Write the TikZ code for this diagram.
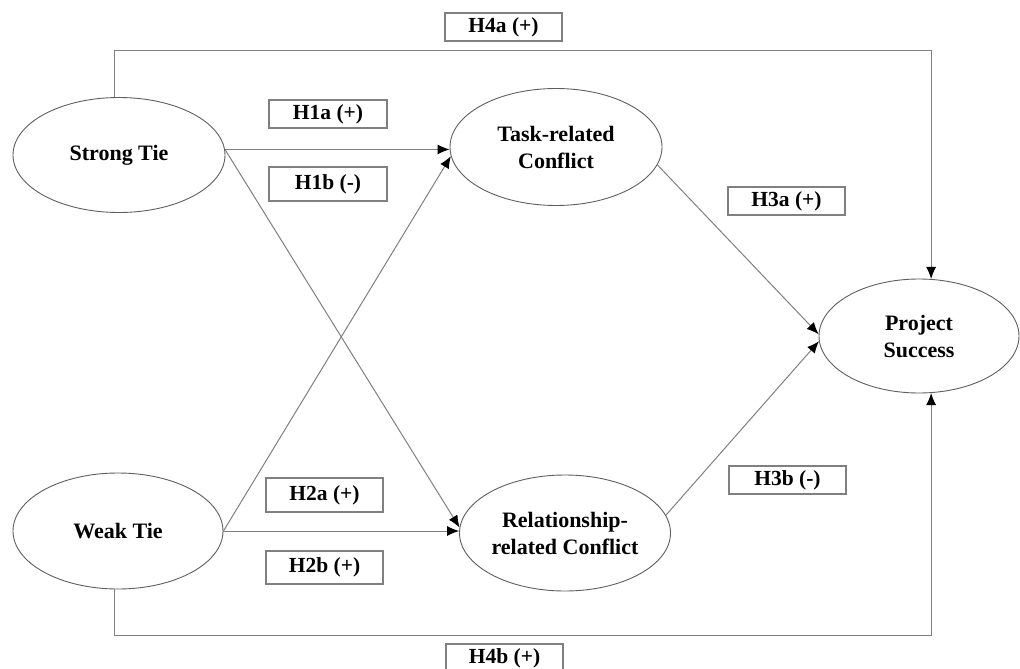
\documentclass[tikz,border=0pt]{standalone}
\usepackage{fontspec}
\setmainfont{Liberation Serif}
\usetikzlibrary{arrows.meta,shapes.geometric}
\definecolor{linegray}{RGB}{128,128,128}
\definecolor{edgegray}{RGB}{95,95,95}
\begin{document}
\begin{tikzpicture}[x=1pt,y=-1pt,
  var/.style={ellipse,draw=edgegray,line width=0.9pt,inner sep=0pt,align=center,
    font=\bfseries\fontsize{22}{27}\selectfont},
  hyp/.style={rectangle,draw=linegray,line width=1.1pt,inner sep=0pt,
    font=\bfseries\fontsize{21.5}{26}\selectfont},
  conn/.style={draw=linegray,line width=1pt,-{Latex[length=12pt,width=10pt,color=black]}}]
\useasboundingbox (0,0) rectangle (1020,669);
\fill[white] (0,0) rectangle (1020,669);
% variables
\node[var,minimum width=212pt,minimum height=115pt] (st) at (119,155) {Strong Tie};
\node[var,minimum width=210pt,minimum height=116pt] (wt) at (118,531) {Weak Tie};
\node[var,minimum width=212pt,minimum height=117pt] (tc) at (556,147) {Task-related\\Conflict};
\node[var,minimum width=211pt,minimum height=116pt] (rc) at (565,533) {Relationship-\\related Conflict};
\node[var,minimum width=200pt,minimum height=114pt] (ps) at (919,336) {Project\\Success};
% hypotheses
\node[hyp,minimum width=117pt,minimum height=28pt] (h4a) at (503.5,27) {H4a (+)};
\node[hyp,minimum width=118pt,minimum height=28pt] (h1a) at (328,114) {H1a (+)};
\node[hyp,minimum width=118pt,minimum height=34pt] (h1b) at (328,184) {H1b (-)};
\node[hyp,minimum width=117pt,minimum height=34pt] (h2a) at (324.5,495) {H2a (+)};
\node[hyp,minimum width=117pt,minimum height=33pt] (h2b) at (324.5,567.5) {H2b (+)};
\node[hyp,minimum width=117pt,minimum height=28pt] (h3a) at (786.5,201) {H3a (+)};
\node[hyp,minimum width=117pt,minimum height=28pt] (h3b) at (787.5,480) {H3b (-)};
\node[hyp,minimum width=117pt,minimum height=28pt] (h4b) at (504.5,658) {H4b (+)};
% connectors
\draw[conn] (st.3) -- (st.3 -| tc.west);
\draw[conn] (st.3) -- (rc.177);
\draw[conn] (wt.east) -- (tc.185);
\draw[conn] (wt.east) -- (wt.east -| rc.west);
\draw[conn] (tc.-10) -- (ps.179);
\draw[conn] (rc.10) -- (ps.183);
\draw[conn] (st.94) -- ++(0,-47) -| (ps.78);
\draw[conn] (wt.-93) -- ++(0,46) -| (ps.-78);
\end{tikzpicture}
\end{document}
